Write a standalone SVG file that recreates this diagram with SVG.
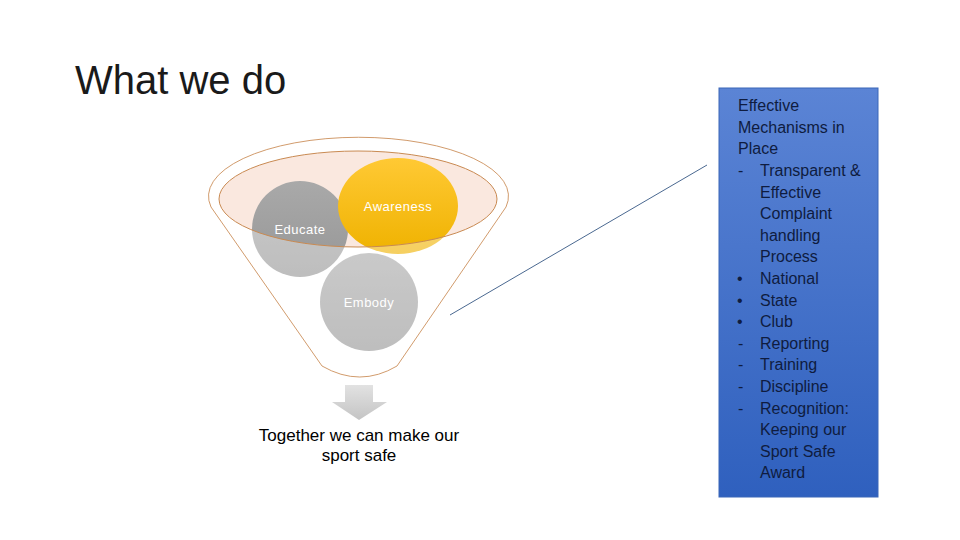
<svg xmlns="http://www.w3.org/2000/svg" width="960" height="540" viewBox="0 0 960 540">
<defs>
<style>
.title{font-family:"Liberation Sans",Arial,sans-serif;font-size:40px;fill:#1a1a1a}
.lbl{font-family:"Liberation Sans",Arial,sans-serif;font-size:13px;fill:#fff;text-anchor:middle;letter-spacing:0.5px}
.res{font-family:"Liberation Sans",Arial,sans-serif;font-size:17px;fill:#000;text-anchor:middle}
.box{font-family:"Liberation Sans",Arial,sans-serif;font-size:16px;fill:#0f1c3f}
.edge{fill:none;stroke:#c98a52;stroke-width:1}
</style>
<linearGradient id="gGray" x1="0" y1="0" x2="0" y2="1"><stop offset="0" stop-color="#a9a9a9"/><stop offset="1" stop-color="#969696"/></linearGradient>
<linearGradient id="gGold" x1="0" y1="0" x2="0" y2="1"><stop offset="0" stop-color="#ffc934"/><stop offset="1" stop-color="#efb200"/></linearGradient>
<linearGradient id="gArrow" x1="0" y1="0" x2="0" y2="1"><stop offset="0" stop-color="#e2e2e2"/><stop offset="1" stop-color="#c4c4c4"/></linearGradient>
<linearGradient id="gBlue" x1="0" y1="0" x2="0" y2="1"><stop offset="0" stop-color="#5b84d5"/><stop offset="1" stop-color="#2f60be"/></linearGradient>
</defs>
<rect width="960" height="540" fill="#fff"/>
<g id="title"><text class="title" x="75" y="94">What we do</text></g>
<g id="funnel-top"><ellipse cx="358" cy="199" rx="139" ry="48" fill="#fae8df"/></g>
<g id="educate"><circle cx="300" cy="229" r="48" fill="url(#gGray)"/></g>
<g id="awareness"><ellipse cx="398" cy="206" rx="60" ry="48" fill="url(#gGold)"/></g>
<g id="embody"><circle cx="369" cy="302" r="49" fill="url(#gGray)"/></g>
<g id="funnel">
<path d="M 211 207 A 150 59 0 1 1 506 207 L 397 366 Q 360 388 322 366 Z M 219 199 A 139 48 0 1 0 497 199 A 139 48 0 1 0 219 199 Z" fill="#fff" fill-opacity="0.38" fill-rule="evenodd"/>
<path class="edge" d="M 211 207 A 150 59 0 1 1 506 207 L 397 366 Q 360 388 322 366 Z" stroke-opacity="0.85"/>
<ellipse class="edge" cx="358" cy="199" rx="139" ry="48" stroke="#b9733e"/>
</g>
<g id="labels">
<text class="lbl" x="300" y="234">Educate</text>
<text class="lbl" x="398" y="211">Awareness</text>
<text class="lbl" x="369" y="307">Embody</text>
</g>
<g id="arrow"><path d="M 345 385 L 373 385 L 373 402 L 387 402 L 359 420 L 332 402 L 345 402 Z" fill="url(#gArrow)"/></g>
<g id="result">
<text class="res" x="359" y="441">Together we can make our</text>
<text class="res" x="359" y="461">sport safe</text>
</g>
<g id="connectors"><line x1="450" y1="315" x2="707" y2="165" stroke="#4a6890" stroke-width="1"/></g>
<g id="mechanisms">
<rect x="719" y="88" width="159" height="409" fill="url(#gBlue)" stroke="#3b66b8" stroke-width="1"/>
<g class="box">
<text x="738" y="111">Effective</text>
<text x="738" y="133">Mechanisms in</text>
<text x="738" y="154">Place</text>
<text x="738" y="176">-</text><text x="760" y="176">Transparent &amp;</text>
<text x="760" y="198">Effective</text>
<text x="760" y="219">Complaint</text>
<text x="760" y="241">handling</text>
<text x="760" y="262">Process</text>
<text x="737" y="284">•</text><text x="760" y="284">National</text>
<text x="737" y="306">•</text><text x="760" y="306">State</text>
<text x="737" y="327">•</text><text x="760" y="327">Club</text>
<text x="738" y="349">-</text><text x="760" y="349">Reporting</text>
<text x="738" y="370">-</text><text x="760" y="370">Training</text>
<text x="738" y="392">-</text><text x="760" y="392">Discipline</text>
<text x="738" y="414">-</text><text x="760" y="414">Recognition:</text>
<text x="760" y="435">Keeping our</text>
<text x="760" y="457">Sport Safe</text>
<text x="760" y="478">Award</text>
</g>
</g>
</svg>
